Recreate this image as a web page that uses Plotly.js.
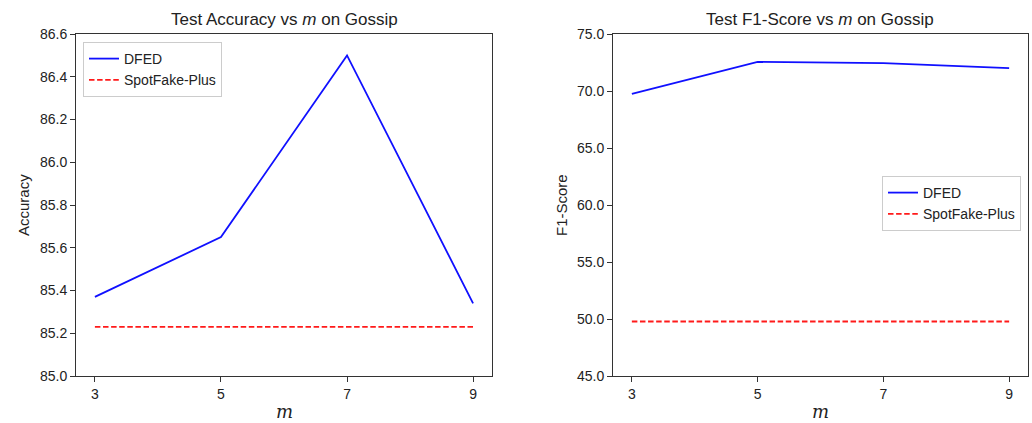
<!DOCTYPE html>
<html>
<head>
<meta charset="utf-8">
<script src="https://cdn.plot.ly/plotly-3.0.1.min.js"></script>
<style>html,body{margin:0;padding:0;background:#fff;}#chart{width:1032px;height:423px;}</style>
</head>
<body>
<div id="chart"></div>
<script>
const mValues = [3, 5, 7, 9];
const accDFED = [85.37, 85.65, 86.50, 85.34];
const accSpotFake = [85.23, 85.23, 85.23, 85.23];
const f1DFED = [69.75, 72.55, 72.45, 72.0];
const f1SpotFake = [49.78, 49.78, 49.78, 49.78];
const seriesNames = ['DFED', 'SpotFake-Plus'];
const accTicks = [85.0, 85.2, 85.4, 85.6, 85.8, 86.0, 86.2, 86.4, 86.6];
const f1Ticks = [45.0, 50.0, 55.0, 60.0, 65.0, 70.0, 75.0];

const W = 1032, H = 423;
const font = 'Liberation Sans, Arial, sans-serif';
const blue = '#1010ff', red = '#ff1a1a';
const dashStyle = '5.5px,2.6px';

const traces = [
  {x: mValues, y: accDFED, name: seriesNames[0], mode: 'lines', line: {color: blue, width: 1.8}, xaxis: 'x', yaxis: 'y', legend: 'legend'},
  {x: mValues, y: accSpotFake, name: seriesNames[1], mode: 'lines', line: {color: red, width: 1.8, dash: dashStyle}, xaxis: 'x', yaxis: 'y', legend: 'legend'},
  {x: mValues, y: f1DFED, name: seriesNames[0], mode: 'lines', line: {color: blue, width: 1.8}, xaxis: 'x2', yaxis: 'y2', legend: 'legend2'},
  {x: mValues, y: f1SpotFake, name: seriesNames[1], mode: 'lines', line: {color: red, width: 1.8, dash: dashStyle}, xaxis: 'x2', yaxis: 'y2', legend: 'legend2'}
];

const axCommon = {
  showline: true, mirror: true, linecolor: '#333', linewidth: 1,
  ticks: 'outside', ticklen: 5, tickcolor: '#333', showgrid: false, zeroline: false,
  tickfont: {family: font, size: 14, color: '#222'}
};
const yDom = [1 - 376 / H, 1 - 34 / H];

const layout = {
  width: W, height: H,
  margin: {l: 0, r: 0, t: 0, b: 0},
  paper_bgcolor: '#fff', plot_bgcolor: '#fff',
  showlegend: true,
  xaxis: Object.assign({}, axCommon, {domain: [76 / W, 492 / W], range: [2.7, 9.3], tickvals: mValues, anchor: 'y'}),
  yaxis: Object.assign({}, axCommon, {domain: yDom, range: [85.0, 86.6], tickvals: accTicks, tickformat: '.1f', anchor: 'x'}),
  xaxis2: Object.assign({}, axCommon, {domain: [613 / W, 1028 / W], range: [2.7, 9.3], tickvals: mValues, anchor: 'y2'}),
  yaxis2: Object.assign({}, axCommon, {domain: yDom, range: [45.0, 75.0], tickvals: f1Ticks, tickformat: '.1f', anchor: 'x2'}),
  legend: {x: 83 / W, y: 1 - 42 / H, xanchor: 'left', yanchor: 'top', bgcolor: '#fff', bordercolor: '#ccc', borderwidth: 1,
    font: {family: font, size: 14, color: '#222'}},
  legend2: {x: 1021 / W, y: 1 - 176 / H, xanchor: 'right', yanchor: 'top', bgcolor: '#fff', bordercolor: '#ccc', borderwidth: 1,
    font: {family: font, size: 14, color: '#222'}},
  annotations: [
    {text: 'Test Accuracy vs <i>m</i> on Gossip', x: 284 / W, y: 1 - 20 / H, xref: 'paper', yref: 'paper', showarrow: false, xanchor: 'center', yanchor: 'middle', font: {family: font, size: 17, color: '#222'}},
    {text: 'Test F1-Score vs <i>m</i> on Gossip', x: 820 / W, y: 1 - 20 / H, xref: 'paper', yref: 'paper', showarrow: false, xanchor: 'center', yanchor: 'middle', font: {family: font, size: 17, color: '#222'}},
    {text: 'Accuracy', x: 24 / W, y: 1 - 205 / H, xref: 'paper', yref: 'paper', showarrow: false, textangle: -90, xanchor: 'center', yanchor: 'middle', font: {family: font, size: 15, color: '#222'}},
    {text: 'F1-Score', x: 562 / W, y: 1 - 205 / H, xref: 'paper', yref: 'paper', showarrow: false, textangle: -90, xanchor: 'center', yanchor: 'middle', font: {family: font, size: 15, color: '#222'}},
    {text: '<i>m</i>', x: 284 / W, y: 1 - 411 / H, xref: 'paper', yref: 'paper', showarrow: false, xanchor: 'center', yanchor: 'middle', font: {family: 'DejaVu Serif, serif', size: 18, color: '#222'}},
    {text: '<i>m</i>', x: 820 / W, y: 1 - 411 / H, xref: 'paper', yref: 'paper', showarrow: false, xanchor: 'center', yanchor: 'middle', font: {family: 'DejaVu Serif, serif', size: 18, color: '#222'}}
  ]
};

Plotly.newPlot('chart', traces, layout, {displayModeBar: false, staticPlot: true});
</script>
</body>
</html>
